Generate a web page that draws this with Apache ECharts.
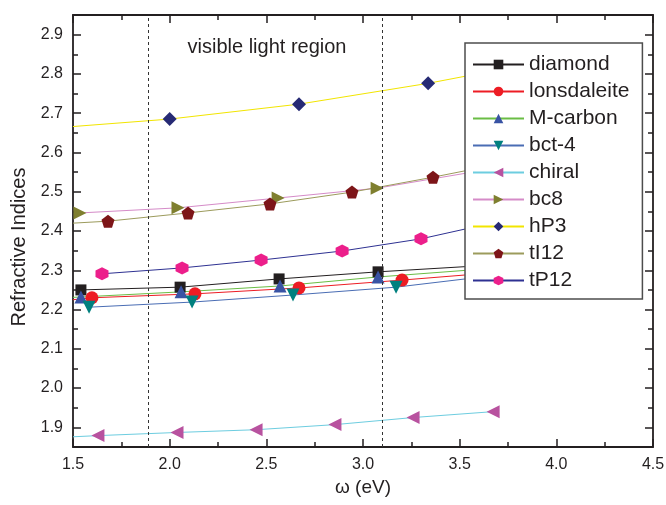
<!DOCTYPE html>
<html>
<head>
<meta charset="utf-8">
<title>Refractive indices</title>
<script src="https://cdn.jsdelivr.net/npm/echarts@6/dist/echarts.min.js"></script>
<style>
  html, body { margin: 0; padding: 0; background: #fff; }
  #chart { width: 666px; height: 505px; }
</style>
</head>
<body>
<div id="chart"></div>
<script>
// photon energy (eV) against refractive index
const names = ['diamond', 'lonsdaleite', 'M-carbon', 'bct-4', 'chiral', 'bc8', 'hP3', 'tI12', 'tP12'];

const diamondX = [1.541, 2.054, 2.566, 3.078, 3.59];
const diamondY = [2.250, 2.257, 2.278, 2.296, 2.311];
const lonsdaleiteX = [1.5, 1.598, 2.131, 2.669, 3.202, 3.73];
const lonsdaleiteY = [2.225, 2.230, 2.240, 2.255, 2.275, 2.296];
const mcarbonX = [1.5, 1.541, 2.059, 2.571, 3.078, 3.59];
const mcarbonY = [2.231, 2.232, 2.245, 2.260, 2.283, 2.302];
const bct4X = [1.583, 2.116, 2.638, 3.171, 3.70];
const bct4Y = [2.206, 2.219, 2.237, 2.257, 2.288];
const chiralX = [1.5, 1.629, 2.038, 2.447, 2.855, 3.259, 3.673];
const chiralY = [1.876, 1.879, 1.887, 1.894, 1.907, 1.925, 1.940];
const bc8X = [1.536, 2.043, 2.561, 3.073, 3.59];
const bc8Y = [2.446, 2.459, 2.484, 2.509, 2.552];
const hp3X = [1.5, 2.0, 2.669, 3.337, 3.75];
const hp3Y = [2.666, 2.685, 2.723, 2.776, 2.815];
const ti12X = [1.5, 1.681, 2.095, 2.519, 2.943, 3.362, 3.75];
const ti12Y = [2.420, 2.425, 2.446, 2.469, 2.499, 2.537, 2.575];
const tp12X = [1.650, 2.064, 2.473, 2.892, 3.300, 3.72];
const tp12Y = [2.291, 2.306, 2.326, 2.349, 2.380, 2.426];

const xValues = [diamondX, lonsdaleiteX, mcarbonX, bct4X, chiralX, bc8X, hp3X, ti12X, tp12X];
const yValues = [diamondY, lonsdaleiteY, mcarbonY, bct4Y, chiralY, bc8Y, hp3Y, ti12Y, tp12Y];

// these curves start at the left edge before their first marker
const bareStart = ['lonsdaleite', 'M-carbon', 'chiral', 'hP3', 'tI12'];

// edges of the visible light region (eV)
const visibleBand = [1.89, 3.105];

const yTickLabels = [1.9, 2.0, 2.1, 2.2, 2.3, 2.4, 2.5, 2.6, 2.7, 2.8, 2.9];
const yMinorTicks = [1.95, 2.05, 2.15, 2.25, 2.35, 2.45, 2.55, 2.65, 2.75, 2.85];

const pentagon = 'path://M50,0 L97.6,34.5 L79.4,90.5 L20.6,90.5 L2.4,34.5 Z';
const hexagon = 'path://M50,0 L93.3,25 L93.3,75 L50,100 L6.7,75 L6.7,25 Z';

const looks = {
  'diamond':     { symbol: 'rect',     rotate: 0,   size: 11, marker: '#231f20', line: '#231f20' },
  'lonsdaleite': { symbol: 'circle',   rotate: 0,   size: 13, marker: '#ed1c24', line: '#ed1c24' },
  'M-carbon':    { symbol: 'triangle', rotate: 0,   size: 13, marker: '#3953a4', line: '#6abd45' },
  'bct-4':       { symbol: 'triangle', rotate: 180, size: 13, marker: '#00807f', line: '#4a6db4' },
  'chiral':      { symbol: 'triangle', rotate: 90,  size: 13, marker: '#b8529f', line: '#6dcde0' },
  'bc8':         { symbol: 'triangle', rotate: -90, size: 13, marker: '#7f7f2f', line: '#d58bc8' },
  'hP3':         { symbol: 'diamond',  rotate: 0,   size: 14, marker: '#262a74', line: '#f2e500' },
  'tI12':        { symbol: pentagon,   rotate: 0,   size: 13, marker: '#7d1518', line: '#9c9b5c' },
  'tP12':        { symbol: hexagon,    rotate: 0,   size: 13, marker: '#ec1f8b', line: '#2e3192' }
};

const ink = '#231f20';
const fontFamily = '"Liberation Sans", Arial, sans-serif';

const series = names.map((name, i) => {
  const look = looks[name];
  const xs = xValues[i];
  const ys = yValues[i];
  const data = xs.map((x, k) =>
    k === 0 && bareStart.includes(name) ? { value: [x, ys[k]], symbol: 'none' } : [x, ys[k]]
  );
  const item = {
    name,
    type: 'line',
    xAxisIndex: 0,
    yAxisIndex: 0,
    data,
    symbol: look.symbol,
    symbolRotate: look.rotate,
    symbolSize: look.size,
    showSymbol: true,
    itemStyle: { color: look.marker },
    lineStyle: { color: look.line, width: 1 },
    emphasis: { disabled: true }
  };
  if (i === 0) {
    item.markLine = {
      silent: true,
      symbol: 'none',
      label: { show: false },
      lineStyle: { color: '#333', type: [3, 3], width: 1 },
      data: visibleBand.map((v) => ({ xAxis: v }))
    };
  }
  return item;
});

const frame = { lineStyle: { color: ink, width: 1.8 } };
const xCommon = {
  type: 'value',
  min: 1.5,
  max: 4.5,
  interval: 0.5,
  axisLine: frame,
  axisTick: { inside: true, length: 8, lineStyle: { color: ink, width: 1.5 } },
  minorTick: { show: true, splitNumber: 2, length: 5, lineStyle: { color: ink, width: 1.5 } },
  splitLine: { show: false },
  minorSplitLine: { show: false }
};
const yCommon = { type: 'value', min: 1.85, max: 2.95, splitLine: { show: false } };

const chart = echarts.init(document.getElementById('chart'), null, { renderer: 'canvas' });
chart.setOption({
  animation: false,
  backgroundColor: '#fff',
  textStyle: { fontFamily, color: ink },
  grid: { left: 73, right: 13, top: 15, bottom: 58, containLabel: false, outerBoundsMode: 'none' },
  xAxis: [
    {
      ...xCommon,
      position: 'bottom',
      axisLabel: { color: ink, fontSize: 16, margin: 10, fontFamily, formatter: (v) => v.toFixed(1) },
      name: 'ω (eV)',
      nameLocation: 'middle',
      nameGap: 30,
      nameTextStyle: { color: ink, fontSize: 19, fontFamily }
    },
    { ...xCommon, position: 'top', axisLabel: { show: false } }
  ],
  yAxis: [
    {
      ...yCommon,
      position: 'left',
      axisLine: frame,
      axisTick: { inside: true, length: 8, customValues: yTickLabels, lineStyle: { color: ink, width: 1.5 } },
      axisLabel: { color: ink, fontSize: 16, margin: 10, fontFamily, customValues: yTickLabels, formatter: (v) => v.toFixed(1) }
    },
    {
      ...yCommon,
      position: 'right',
      axisLine: frame,
      axisTick: { inside: true, length: 8, customValues: yTickLabels, lineStyle: { color: ink, width: 1.5 } },
      axisLabel: { show: false }
    },
    {
      ...yCommon,
      position: 'left',
      axisLine: { show: false },
      axisTick: { inside: true, length: 5, customValues: yMinorTicks, lineStyle: { color: ink, width: 1.5 } },
      axisLabel: { show: false }
    },
    {
      ...yCommon,
      position: 'right',
      axisLine: { show: false },
      axisTick: { inside: true, length: 5, customValues: yMinorTicks, lineStyle: { color: ink, width: 1.5 } },
      axisLabel: { show: false }
    }
  ],
  legend: {
    orient: 'vertical',
    left: 465,
    top: 43,
    padding: [11, 13, 8, 7],
    itemWidth: 51,
    itemHeight: 12,
    itemGap: 6,
    selectedMode: false,
    backgroundColor: '#fff',
    borderColor: '#4d4d4d',
    borderWidth: 1.5,
    textStyle: { fontSize: 21, color: ink, fontFamily },
    data: names
  },
  graphic: [
    {
      type: 'text',
      x: 267,
      y: 47,
      style: { text: 'visible light region', font: `20px ${fontFamily}`, fill: ink, textAlign: 'center', textVerticalAlign: 'middle' }
    },
    {
      type: 'text',
      x: 19,
      y: 247,
      rotation: Math.PI / 2,
      style: { text: 'Refractive Indices', font: `20px ${fontFamily}`, fill: ink, textAlign: 'center', textVerticalAlign: 'middle' }
    }
  ],
  series
});
</script>
</body>
</html>
